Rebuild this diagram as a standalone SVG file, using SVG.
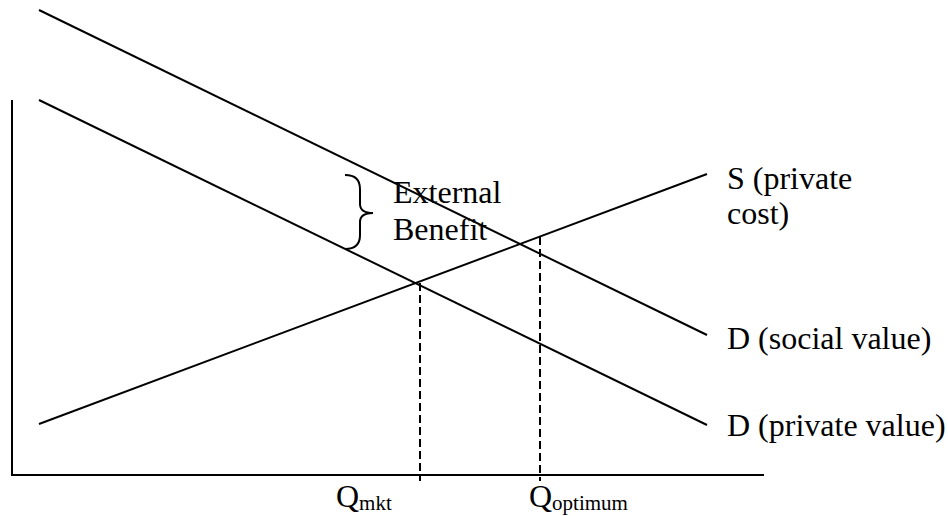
<svg xmlns="http://www.w3.org/2000/svg" width="948" height="516" viewBox="0 0 948 516">
<style>
.ln{stroke:#000;stroke-width:2;fill:none}
.ds{stroke:#000;stroke-width:2;fill:none;stroke-dasharray:8,4}
text{font-family:'Liberation Serif','Times New Roman','DejaVu Serif',serif;font-size:32px;fill:#000}
.s{font-size:21px}
</style>
<rect width="948" height="516" fill="#fff"/>
<g id="axes">
<line class="ln" x1="12" y1="100" x2="12" y2="476"/>
<line class="ln" x1="11" y1="475" x2="764" y2="475"/>
</g>
<g id="connectors">
<line id="social-value" class="ln" x1="39" y1="10" x2="707" y2="335"/>
<line id="private-value" class="ln" x1="39" y1="100" x2="707" y2="425"/>
<line id="supply" class="ln" x1="39" y1="424" x2="707" y2="174"/>
<line id="q-mkt-drop" class="ds" x1="420" y1="283" x2="420" y2="481"/>
<line id="q-opt-drop" class="ds" x1="540" y1="237" x2="540" y2="481"/>
</g>
<g id="brace">
<path class="ln" d="M345,175 Q360,175 360,189 L360,204 Q360,213 373,213 Q360,213 360,222 L360,235 Q360,249 345,249"/>
</g>
<g id="label-external">
<text font-family="Liberation Serif, serif" x="393" y="203">External</text>
<text font-family="Liberation Serif, serif" x="393" y="240">Benefit</text>
</g>
<g id="label-supply">
<text font-family="Liberation Serif, serif" x="727" y="189">S (private</text>
<text font-family="Liberation Serif, serif" x="727" y="224">cost)</text>
</g>
<g id="label-social">
<text font-family="Liberation Serif, serif" x="727" y="349">D (social value)</text>
</g>
<g id="label-private">
<text font-family="Liberation Serif, serif" x="727" y="436">D (private value)</text>
</g>
<g id="label-qmkt">
<text font-family="Liberation Serif, serif" x="336" y="507">Q<tspan class="s" dy="3">mkt</tspan></text>
</g>
<g id="label-qopt">
<text font-family="Liberation Serif, serif" x="529" y="507">Q<tspan class="s" dy="3">optimum</tspan></text>
</g>
</svg>
